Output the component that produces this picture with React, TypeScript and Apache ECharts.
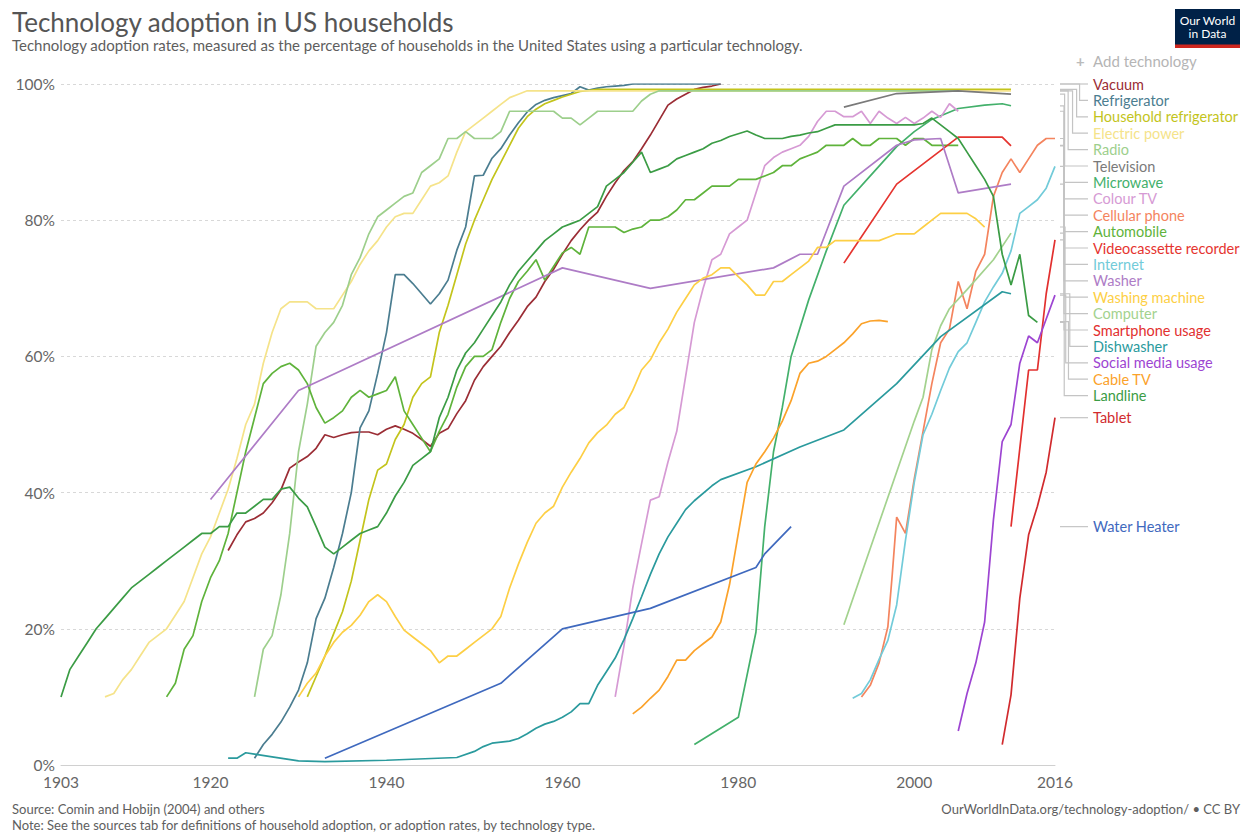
import React, { useEffect, useRef } from "react";
import * as echarts from "echarts";

type P = [number, number][];

// ---- tick labels ----
const xTickYears = [1903, 1920, 1940, 1960, 1980, 2000, 2016];

// ---- series values: [year, % of households] ----
const vacuum: P = [[1922,31.5],[1923,33.8],[1924,35.7],[1925,36.2],[1926,37],[1927,38.5],[1928,40.4],[1929,43.6],[1930,44.5],[1931,45.3],[1932,46.5],[1933,48.5],[1934,48.1],[1935,48.5],[1936,48.8],[1937,48.9],[1938,48.9],[1939,48.5],[1940,49.3],[1941,49.8],[1942,49.3],[1943,48.7],[1944,47.8],[1945,46.8],[1946,48.7],[1947,49.4],[1948,51.6],[1949,53.5],[1950,56.5],[1951,58.5],[1952,60],[1953,61.5],[1954,63.5],[1955,65.3],[1956,67.3],[1957,68.7],[1958,71],[1959,72.8],[1960,75],[1961,77],[1962,78.6],[1963,80],[1964,81.2],[1965,83.5],[1966,85.5],[1967,87.3],[1968,88.6],[1969,90.5],[1970,92.5],[1971,94.7],[1972,96.9],[1973,97.8],[1974,98.5],[1975,99.2],[1976,99.5],[1977,99.7],[1978,100]];
const refrigerator: P = [[1925,1],[1926,3],[1927,4.5],[1928,6.3],[1929,8.5],[1930,11],[1931,15],[1932,21.5],[1933,24.5],[1934,29],[1935,34],[1936,40],[1937,49.5],[1938,52],[1939,57.5],[1940,63.5],[1941,72],[1942,72],[1943,70.7],[1944,69.2],[1945,67.7],[1946,69.2],[1947,71.2],[1948,75.6],[1949,79],[1950,86.5],[1951,86.6],[1952,89.1],[1953,90.5],[1954,92.5],[1955,94.3],[1956,95.9],[1957,97],[1958,97.6],[1959,98],[1960,98.3],[1961,98.6],[1962,99.6],[1963,99.1],[1964,99.4],[1965,99.6],[1966,99.7],[1967,99.8],[1968,100],[1978,100]];
const householdRefrigerator: P = [[1931,10],[1932,13],[1933,16],[1934,19.3],[1935,22.5],[1936,27],[1937,33],[1938,39],[1939,43.3],[1940,44.2],[1941,47.8],[1942,50],[1943,54],[1944,56],[1945,57],[1946,63.5],[1947,67.5],[1948,72],[1949,76.5],[1950,80],[1951,83],[1952,86],[1953,88.5],[1954,91],[1955,93.5],[1956,95.2],[1957,96.3],[1958,97.1],[1959,97.6],[1960,98.1],[1961,98.5],[1962,98.9],[1964,99.2],[2011,99.2]];
const electricPower: P = [[1908,10],[1909,10.5],[1910,12.5],[1911,14],[1912,16],[1913,18],[1914,19],[1915,20],[1916,22],[1917,24],[1918,27.5],[1919,31],[1920,33.5],[1921,37],[1922,40.5],[1923,45],[1924,50],[1925,53],[1926,59],[1927,63.5],[1928,67],[1929,68],[1930,68],[1931,68],[1932,67],[1933,67],[1934,67],[1935,69],[1936,71],[1937,73.5],[1938,75.5],[1939,77],[1940,79],[1941,80.5],[1942,81],[1943,81],[1944,83],[1945,85],[1946,85.5],[1947,86.5],[1948,90],[1949,93],[1950,94],[1951,95],[1952,96],[1953,97],[1954,98],[1955,98.5],[1956,99],[2011,99]];
const radio: P = [[1925,10],[1926,17],[1927,19],[1928,25],[1929,34],[1930,46],[1931,53],[1932,61.5],[1933,63.5],[1934,65],[1935,67.5],[1936,72],[1937,74.5],[1938,78],[1939,80.5],[1940,81.5],[1941,82.5],[1942,83.5],[1943,84],[1944,87],[1945,88],[1946,89],[1947,92],[1948,92],[1949,93],[1950,92],[1951,92],[1952,92],[1953,93],[1954,96],[1955,96],[1956,96],[1957,96],[1958,96],[1959,96],[1960,95],[1961,95],[1962,94],[1963,95],[1964,96],[1965,96],[1966,96],[1967,96],[1968,96],[1969,97.5],[1970,98.5],[1971,99],[2005,99]];
const television: P = [[1992,96.6],[1998,98.6],[2005,99],[2011,98.5]];
const microwave: P = [[1975,3],[1980,7],[1982,19.5],[1983,35],[1984,46],[1985,52.5],[1986,60],[1988,68.3],[1990,75.5],[1992,82.2],[1995,86.5],[1998,90.8],[2000,93],[2002,94.8],[2005,96.4],[2008,96.9],[2010,97.1],[2011,96.8]];
const colourTV: P = [[1966,10],[1967,17.5],[1968,26],[1969,32.5],[1970,38.9],[1971,39.4],[1972,44.5],[1973,49],[1974,57],[1975,65],[1976,70],[1977,74.2],[1978,75],[1979,78],[1980,79],[1981,80],[1982,84],[1983,88],[1984,89.2],[1985,90],[1986,90.5],[1987,91],[1988,92.3],[1989,94.5],[1990,96],[1991,96],[1992,95.2],[1993,95.2],[1994,96],[1995,94.2],[1996,96],[1997,95],[1998,94.2],[1999,95.1],[2000,94.2],[2001,95],[2002,96],[2003,95.1],[2004,97.1],[2005,96]];
const cellularPhone: P = [[1994,10],[1995,11.7],[1996,15],[1997,20.3],[1997.5,28],[1998,36.4],[1999,34],[2000,42],[2001,49],[2002,56],[2003,62],[2004,64],[2005,71],[2006,67],[2007,72.5],[2008,75],[2009,83.5],[2010,87],[2011,89],[2012,87],[2013,89],[2014,91],[2015,92],[2016,92]];
const automobile: P = [[1915,10],[1916,12],[1917,17],[1918,19],[1919,24],[1920,27.5],[1921,30],[1922,34],[1923,40],[1924,46],[1925,51],[1926,56],[1927,57.5],[1928,58.5],[1929,59],[1930,58],[1931,56],[1932,52.5],[1933,50.2],[1934,51],[1935,52],[1936,54],[1937,55],[1938,54],[1939,54.5],[1940,55],[1941,57],[1942,52],[1943,50],[1944,48],[1945,46],[1946,49],[1947,51.5],[1948,55.5],[1949,58.5],[1950,60],[1951,60],[1952,61],[1953,65],[1954,68.5],[1955,71],[1956,72.5],[1957,74.2],[1958,71.2],[1959,73.2],[1960,75.2],[1961,76],[1962,75],[1963,79],[1964,79],[1965,79],[1966,79],[1967,78.2],[1968,78.7],[1969,79],[1970,80],[1971,80],[1972,80.5],[1973,81.5],[1974,83],[1975,83],[1976,84],[1977,85],[1978,85],[1979,85],[1980,86],[1981,86],[1982,86],[1983,86.5],[1984,87],[1985,88],[1986,88],[1987,89],[1988,89.5],[1989,90],[1990,91],[1991,91],[1992,91],[1993,92],[1994,91],[1995,91],[1996,92],[1997,92],[1998,92],[1999,91],[2000,92],[2001,92],[2002,91],[2003,91],[2004,91],[2005,91]];
const videocassetteRecorder: P = [[1992,73.7],[1998,85.3],[2005,92.2],[2010,92.2],[2011,90.9]];
const internet: P = [[1993,9.8],[1994,10.5],[1995,12.5],[1996,15.5],[1997,18.3],[1998,23.5],[1999,33],[2000,41.5],[2001,48.5],[2002,51.5],[2003,55],[2004,58.3],[2005,60.7],[2006,62],[2007,65],[2008,68],[2009,70.2],[2010,72.2],[2011,75.5],[2012,81],[2013,82],[2014,83],[2015,84.7],[2016,87.9]];
const washer: P = [[1920,39],[1930,55],[1960,73],[1970,70],[1984,73],[1987,75],[1989,75],[1992,85],[1998,91],[2000,91.8],[2003,92],[2005,84],[2011,85.3]];
const washingMachine: P = [[1930,10],[1931,12],[1932,13.5],[1933,16],[1934,18],[1935,19.5],[1936,20.5],[1937,22],[1938,24],[1939,25],[1940,24],[1941,21.8],[1942,19.8],[1943,18.8],[1944,17.8],[1945,16.8],[1946,15],[1947,16],[1948,16],[1949,17],[1950,18],[1951,19],[1952,20],[1953,21.8],[1954,26],[1955,29.5],[1956,32.7],[1957,35.5],[1958,37],[1959,38],[1960,40.8],[1961,43],[1962,45],[1963,47.3],[1964,48.8],[1965,49.9],[1966,51.5],[1967,52.5],[1968,55],[1969,58],[1970,59.5],[1971,62],[1972,64],[1973,66.5],[1974,68.5],[1975,70.5],[1976,71.5],[1977,72],[1978,73],[1979,73],[1980,71.7],[1981,70.5],[1982,69],[1983,69],[1984,71],[1985,71],[1986,72],[1987,73],[1988,74],[1989,76],[1990,76],[1991,77],[1996,77],[1997,77.5],[1998,78],[2000,78],[2001,79],[2002,80],[2003,81],[2006,81],[2007,80.2],[2008,79]];
const computer: P = [[1992,20.6],[2000,50.5],[2001,54],[2002,61],[2003,64.5],[2004,67],[2006,69.8],[2009,74.2],[2011,78.1]];
const smartphoneUsage: P = [[2011,35],[2012,46.5],[2013,58],[2014,58],[2015,69.2],[2016,77.1]];
const dishwasher: P = [[1922,1],[1923,1],[1924,1.8],[1925,1.6],[1927,1.2],[1930,0.6],[1933,0.5],[1940,0.7],[1948,1.1],[1950,2],[1951,2.7],[1952,3.2],[1954,3.5],[1955,3.9],[1956,4.6],[1957,5.4],[1958,6],[1959,6.4],[1960,7],[1961,7.8],[1962,9],[1963,9],[1964,11.7],[1965,13.7],[1966,15.7],[1967,18.4],[1968,21.5],[1969,24.7],[1970,28],[1971,31],[1972,33.5],[1973,35.5],[1974,37.5],[1975,38.8],[1977,41],[1978,41.9],[1982,43.8],[1987,46.7],[1992,49.2],[1998,56],[2003,62.9],[2010,69.5],[2011,69.2]];
const socialMediaUsage: P = [[2005,5],[2006,10.5],[2007,15],[2008,21],[2009,36],[2010,47.5],[2011,50],[2012,59],[2013,63],[2014,62],[2015,65.5],[2016,69]];
const cableTV: P = [[1968,7.5],[1969,8.5],[1970,9.8],[1971,11],[1972,13],[1973,15.4],[1974,15.4],[1975,16.8],[1976,17.8],[1977,18.8],[1978,21],[1979,26.5],[1980,34],[1981,41.5],[1982,44.2],[1983,46],[1984,48],[1985,50.5],[1986,53.5],[1987,57.5],[1988,59],[1989,59.3],[1990,60],[1991,61],[1992,62],[1993,63.3],[1994,64.8],[1995,65.2],[1996,65.3],[1997,65.1]];
const landline: P = [[1903,10],[1904,14],[1905,16],[1906,18],[1907,20],[1908,21.5],[1909,23],[1910,24.5],[1911,26],[1912,27],[1913,28],[1914,29],[1915,30],[1916,31],[1917,32],[1918,33],[1919,34],[1920,34],[1921,35],[1922,35],[1923,37],[1924,37],[1925,38],[1926,39],[1927,39],[1928,40.5],[1929,40.8],[1930,39.2],[1931,37.9],[1932,35],[1933,32],[1934,31],[1935,32],[1936,33],[1937,34],[1938,34.5],[1939,35],[1940,37],[1941,39.5],[1942,41.5],[1943,44],[1944,45],[1945,46],[1946,51],[1947,54],[1948,58],[1949,60.5],[1950,62],[1951,64],[1952,66],[1953,68],[1954,70.5],[1955,72.5],[1956,74],[1957,75.5],[1958,77],[1959,78],[1960,79],[1961,79.5],[1962,80],[1963,81],[1964,82],[1965,85],[1966,86],[1967,87],[1968,88.5],[1969,90],[1970,87],[1971,87.5],[1972,88],[1973,89],[1974,89.5],[1975,90],[1976,90.5],[1977,91.3],[1978,91.7],[1979,92.3],[1980,92.7],[1981,93.1],[1982,92.5],[1983,92],[1984,92],[1985,92],[1986,92.3],[1987,92.5],[1988,92.8],[1989,93],[1990,93.5],[1991,94],[1995,94],[2000,94],[2001,94.2],[2002,95],[2003,94],[2004,93],[2005,92],[2006,90],[2007,88],[2008,86],[2009,83.5],[2010,75],[2011,70.5],[2012,75],[2013,66],[2014,65]];
const tablet: P = [[2010,3],[2011,10.3],[2012,24.5],[2013,33.8],[2014,38],[2015,43],[2016,51]];
const waterHeater: P = [[1933,1],[1953,12],[1960,20],[1970,23],[1982,29],[1983,31],[1986,35]];

// legend order (top to bottom) with colours
const seriesDefs: { name: string; color: string; data: P }[] = [
  { name: "Vacuum", color: "#9b2d35", data: vacuum },
  { name: "Refrigerator", color: "#4b7d90", data: refrigerator },
  { name: "Household refrigerator", color: "#c3c41c", data: householdRefrigerator },
  { name: "Electric power", color: "#f5e38a", data: electricPower },
  { name: "Radio", color: "#9dcf8c", data: radio },
  { name: "Television", color: "#7a7a7a", data: television },
  { name: "Microwave", color: "#43b06b", data: microwave },
  { name: "Colour TV", color: "#d69ad4", data: colourTV },
  { name: "Cellular phone", color: "#f4845e", data: cellularPhone },
  { name: "Automobile", color: "#5fb33b", data: automobile },
  { name: "Videocassette recorder", color: "#e5342f", data: videocassetteRecorder },
  { name: "Internet", color: "#72cbd9", data: internet },
  { name: "Washer", color: "#ae7cc6", data: washer },
  { name: "Washing machine", color: "#fdcf45", data: washingMachine },
  { name: "Computer", color: "#a3d28e", data: computer },
  { name: "Smartphone usage", color: "#e2302f", data: smartphoneUsage },
  { name: "Dishwasher", color: "#2a9a9d", data: dishwasher },
  { name: "Social media usage", color: "#9d45d2", data: socialMediaUsage },
  { name: "Cable TV", color: "#fba22a", data: cableTV },
  { name: "Landline", color: "#3b9c45", data: landline },
  { name: "Tablet", color: "#d12b2e", data: tablet },
  { name: "Water Heater", color: "#3f69be", data: waterHeater },
];

const FONT = "Lato, 'Open Sans', sans-serif";

export default function App() {
  const ref = useRef<HTMLDivElement>(null);
  useEffect(() => {
    const chart = echarts.init(ref.current!, null, { renderer: "svg" });
    chart.setOption({
      animation: false,
      grid: { left: 61, right: 189, top: 84, bottom: 67, containLabel: false },
      xAxis: {
        type: "value",
        min: 1903,
        max: 2016,
        axisLine: { lineStyle: { color: "#d0d0d0", width: 1 } },
        axisTick: { show: false },
        splitLine: { show: false },
        axisLabel: {
          customValues: xTickYears,
          formatter: (v: number) => String(v),
          color: "#666",
          fontSize: 15.5,
          fontFamily: FONT,
          margin: 9,
        },
      },
      yAxis: {
        type: "value",
        min: 0,
        max: 100,
        interval: 20,
        axisLine: { show: false },
        axisTick: { show: false },
        splitLine: { lineStyle: { color: "#d8d8d8", type: [3, 3], width: 1 } },
        axisLabel: {
          formatter: "{value}%",
          color: "#666",
          fontSize: 15.5,
          fontFamily: FONT,
          margin: 6,
        },
      },
      series: seriesDefs.map((s) => ({
        type: "line",
        name: s.name,
        data: s.data,
        showSymbol: false,
        symbol: "none",
        silent: true,
        lineStyle: { color: s.color, width: 1.7 },
        itemStyle: { color: s.color },
      })),
    });

    // line labels with connectors, placed from the series' last values
    const grid = { gridIndex: 0 };
    const rightX = chart.convertToPixel(grid, [2016, 0])[0];
    const labelX = rightX + 38;
    const step = 16.4;
    let prev = -Infinity;
    const labelEls: any[] = [];
    const connEls: any[] = [];
    seriesDefs.forEach((s) => {
      const last = s.data[s.data.length - 1];
      const sy = chart.convertToPixel(grid, [2016, last[1]])[1];
      const ly = Math.max(sy, prev + step);
      prev = ly;
      const bx = Math.max(rightX + 9, rightX + 29 - (ly - sy) * 0.27);
      connEls.push({
        type: "polyline",
        silent: true,
        shape: { points: [[rightX + 5, sy], [bx, sy], [bx, ly], [labelX - 5, ly]] },
        style: { stroke: "#c4c4c4", lineWidth: 1.2, fill: null },
      });
      labelEls.push({
        type: "text",
        x: labelX,
        y: ly,
        style: {
          text: s.name,
          fill: s.color,
          font: `14.5px ${FONT}`,
          textAlign: "left",
          textVerticalAlign: "middle",
        },
      });
    });

    const staticEls: any[] = [
      {
        type: "text",
        x: 12,
        y: 22,
        style: { text: "Technology adoption in US households", fill: "#555", font: `26px ${FONT}`, textAlign: "left", textVerticalAlign: "middle" },
      },
      {
        type: "text",
        x: 12,
        y: 45,
        style: {
          text: "Technology adoption rates, measured as the percentage of households in the United States using a particular technology.",
          fill: "#5e5e5e",
          font: `15px ${FONT}`,
          textAlign: "left",
          textVerticalAlign: "middle",
        },
      },
      { type: "rect", shape: { x: 1175, y: 9, width: 65, height: 39 }, style: { fill: "#002147" } },
      { type: "rect", shape: { x: 1175, y: 44.5, width: 65, height: 3.5 }, style: { fill: "#ce261e" } },
      { type: "text", x: 1207.5, y: 20, style: { text: "Our World", fill: "#fff", font: `12px ${FONT}`, textAlign: "center", textVerticalAlign: "middle" } },
      { type: "text", x: 1207.5, y: 33, style: { text: "in Data", fill: "#fff", font: `12px ${FONT}`, textAlign: "center", textVerticalAlign: "middle" } },
      { type: "text", x: 1076, y: 61, style: { text: "+", fill: "#bbb", font: `bold 15px ${FONT}`, textAlign: "left", textVerticalAlign: "middle" } },
      { type: "text", x: 1093, y: 61, style: { text: "Add technology", fill: "#b5b5b5", font: `15px ${FONT}`, textAlign: "left", textVerticalAlign: "middle" } },
      { type: "text", x: 12, y: 809, style: { text: "Source: Comin and Hobijn (2004) and others", fill: "#5e5e5e", font: `13px ${FONT}`, textAlign: "left", textVerticalAlign: "middle" } },
      {
        type: "text",
        x: 12,
        y: 825,
        style: {
          text: "Note: See the sources tab for definitions of household adoption, or adoption rates, by technology type.",
          fill: "#5e5e5e",
          font: `13px ${FONT}`,
          textAlign: "left",
          textVerticalAlign: "middle",
        },
      },
      { type: "text", x: 1240, y: 809, style: { text: "OurWorldInData.org/technology-adoption/ • CC BY", fill: "#5e5e5e", font: `13px ${FONT}`, textAlign: "right", textVerticalAlign: "middle" } },
    ];

    chart.setOption({ graphic: [...staticEls, ...connEls, ...labelEls] });
    return () => chart.dispose();
  }, []);

  return (
    <div
      ref={ref}
      style={{ position: "absolute", left: 0, top: 0, width: 1244, height: 832, background: "#fff" }}
    />
  );
}
